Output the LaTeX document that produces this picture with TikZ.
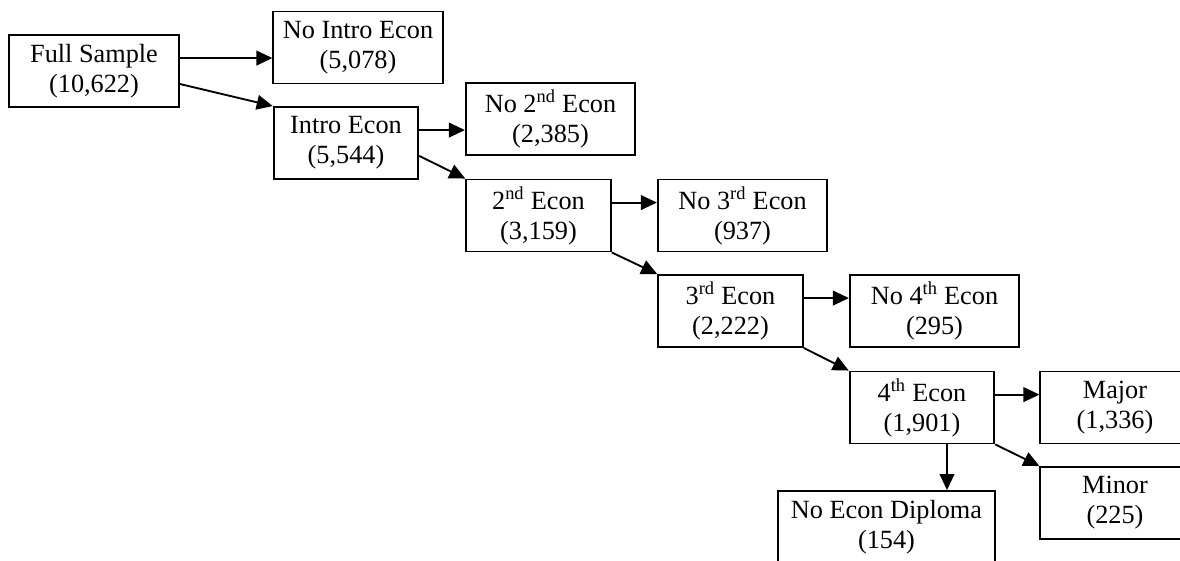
\documentclass[tikz,border=0pt]{standalone}
\usepackage{fontspec}
\setmainfont{Liberation Serif}
\usepackage{tikz}
\usetikzlibrary{arrows.meta,positioning,calc}

\begin{document}
\begin{tikzpicture}[
  x=0.75pt, y=-0.75pt,
  box/.style={rectangle, draw=black, line width=1.4pt, fill=white,
    minimum height=54pt, minimum width=108.5pt, inner sep=0pt,
    align=center, font=\fontsize{19.7}{22.5}\selectfont},
  nobox/.style={box, minimum width=127pt},
  arr/.style={-{Triangle[length=12pt,width=11pt]}, line width=1.4pt}
]
  \useasboundingbox (0,0) rectangle (1180,560);

  % Main chain
  \node[nobox] (full)  at (94,71)      {Full Sample\\(10,622)};
  \node[box]   (intro) at (346,143)    {Intro Econ\\(5,544)};
  \node[box]   (econ2) at (538.5,215.5) {2\textsuperscript{nd} Econ\\(3,159)};
  \node[box]   (econ3) at (730.5,311)  {3\textsuperscript{rd} Econ\\(2,222)};
  \node[box]   (econ4) at (922,407.5)  {4\textsuperscript{th} Econ\\(1,901)};

  % Drop-outs
  \node[nobox] (nointro) at (358,47.5)   {No Intro Econ\\(5,078)};
  \node[nobox] (noecon2) at (550.5,119)  {No 2\textsuperscript{nd} Econ\\(2,385)};
  \node[nobox] (noecon3) at (742.5,215.5) {No 3\textsuperscript{rd} Econ\\(937)};
  \node[nobox] (noecon4) at (934.5,311)  {No 4\textsuperscript{th} Econ\\(295)};

  % Outcomes
  \node[box, minimum width=112pt] (major)  at (1115,407.5) {Major\\(1,336)};
  \node[box, minimum width=112pt] (minor)  at (1115,503)   {Minor\\(225)};
  \node[box, minimum width=163pt] (nodiploma) at (886.5,527) {No Econ Diploma\\(154)};

  % Arrows
  \foreach \src/\dst in {full/nointro, intro/noecon2, econ2/noecon3,
                         econ3/noecon4, econ4/major} {
    \coordinate (out) at ([yshift=-18pt]\src.north east);
    \draw[arr] (out) -- (out -| \dst.west);
  }
  \draw[arr] ([yshift=18pt]full.south east) -- (intro.north west);
  \draw[arr] ([yshift=18pt]intro.south east) -- (econ2.north west);
  \draw[arr] (econ2.south east) -- (econ3.north west);
  \draw[arr] (econ3.south east) -- (econ4.north west);
  \draw[arr] (econ4.south east) -- (minor.north west);
  \coordinate (down) at ([xshift=18.75pt]econ4.south);
  \draw[arr] (down) -- (down |- nodiploma.north);
\end{tikzpicture}
\end{document}
